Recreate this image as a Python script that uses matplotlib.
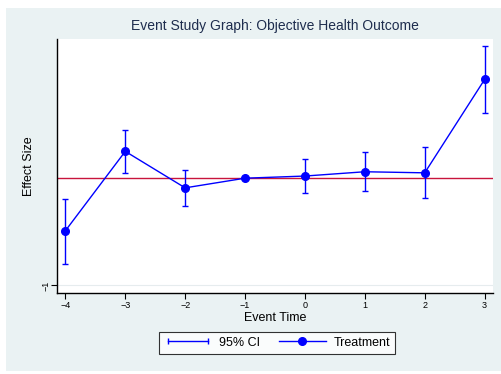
import numpy as np
import matplotlib
matplotlib.use("Agg")
import matplotlib.pyplot as plt
from matplotlib.lines import Line2D
from matplotlib.patches import Rectangle
from matplotlib.legend_handler import HandlerLine2D

plt.rcParams['font.family'] = ['Liberation Sans', 'DejaVu Sans']

# event-study estimates, relative to period -1
event_time = [-4, -3, -2, -1, 0, 1, 2, 3]
effect = [-0.49, 0.25, -0.09, 0.0, 0.02, 0.06, 0.05, 0.92]
ci_low = [-0.80, 0.05, -0.26, 0.0, -0.14, -0.12, -0.18, 0.61]
ci_high = [-0.19, 0.45, 0.08, 0.0, 0.18, 0.24, 0.29, 1.23]

blue = '#0000ff'
bg = '#eaf2f3'

fig = plt.figure(figsize=(5.02, 3.74), dpi=100, facecolor='white')
# graph region background
fig.patches.append(Rectangle((6 / 502, 3 / 374), 1, (371 - 10) / 374 + 0.005,
                             transform=fig.transFigure, facecolor=bg,
                             edgecolor='none', zorder=-10))

ax = fig.add_axes([57 / 502, 1 - 293 / 374, (493 - 57) / 502, (293 - 38.7) / 374])
ax.set_facecolor('white')

# confidence intervals (skip the reference period)
idx = [i for i in range(len(event_time)) if ci_high[i] != ci_low[i]]
xs = np.array(event_time)[idx]
lo = np.array(ci_low)[idx]
hi = np.array(ci_high)[idx]
ax.vlines(xs, lo, hi, color=blue, lw=1.0, zorder=3)
ax.plot(xs, lo, ls='none', marker='_', ms=5, mew=1.0, color=blue, zorder=3)
ax.plot(xs, hi, ls='none', marker='_', ms=5, mew=1.0, color=blue, zorder=3)

ax.plot(event_time, effect, color=blue, lw=1.0, marker='o', ms=5.5, zorder=4)
ax.axhline(0, color='#c8143c', lw=1.0, zorder=2)

ax.set_xlim(-4.14, 3.14)
ax.set_ylim(-1.07, 1.30)
ax.set_xticks(event_time)
ax.set_xticklabels(['\u22124', '\u22123', '\u22122', '\u22121', '0', '1', '2', '3'])
ax.set_yticks([-1])
ax.set_yticklabels(['\u22121'], rotation=90, va='center')
ax.grid(axis='y', color='#e6ecee', lw=0.8)
ax.set_axisbelow(True)
ax.tick_params(labelsize=6.5, length=4, width=0.8, pad=2, colors='black')
ax.tick_params(axis='y', pad=1)

for s in ['top', 'right']:
    ax.spines[s].set_visible(False)
for s in ['left', 'bottom']:
    ax.spines[s].set_linewidth(1.0)

ax.set_title('Event Study Graph: Objective Health Outcome', fontsize=10,
             color='#1e2d4e', pad=6)
ax.set_xlabel('Event Time', fontsize=9, labelpad=1)
ax.set_ylabel('Effect Size', fontsize=9, labelpad=4)

ci_handle = Line2D([], [], color=blue, lw=1.0, marker='|', ms=5, mew=1.0)
tr_handle = Line2D([], [], color=blue, lw=1.0, marker='o', ms=5.5)
leg = fig.legend([ci_handle, tr_handle], ['95% CI', 'Treatment'],
                 handler_map={ci_handle: HandlerLine2D(numpoints=2),
                              tr_handle: HandlerLine2D(numpoints=1)},
                 loc='center', bbox_to_anchor=(0.552, 0.084), ncol=2,
                 fontsize=9, frameon=True, fancybox=False, handlelength=3.8,
                 columnspacing=1.5, handletextpad=0.6, borderpad=0.4)
leg.get_frame().set_edgecolor('black')
leg.get_frame().set_linewidth(0.8)

fig.savefig('out.png', dpi=100, facecolor=fig.get_facecolor())
